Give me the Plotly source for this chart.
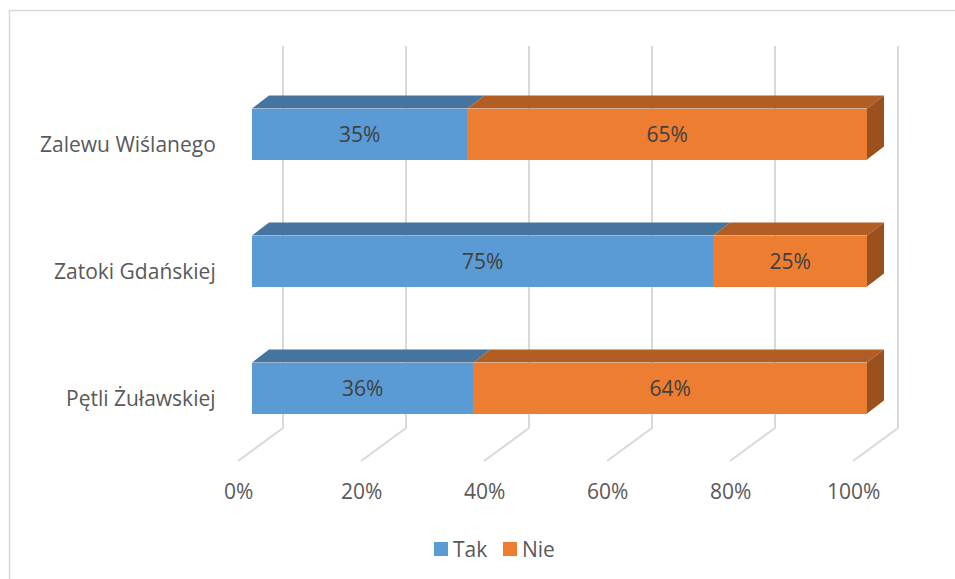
import plotly.graph_objects as go

# ---- data -------------------------------------------------------------
categories = ["Pętli Żuławskiej", "Zatoki Gdańskiej", "Zalewu Wiślanego"]
tak = [36, 75, 35]
nie = [64, 25, 65]
series_names = ["Tak", "Nie"]
tick_values = [0, 20, 40, 60, 80, 100]
tick_labels = ["0%", "20%", "40%", "60%", "80%", "100%"]

# ---- styling ----------------------------------------------------------
FONT = "Open Sans"
FS = 21
FRONT = ["#5B9BD5", "#ED7D31"]
TOP = ["#45749F", "#B25D24"]
SIDE = ["#3B6590", "#9A511E"]
GRID = "#D9D9D9"
LABEL = "#595959"
VALUE = "#404040"

# ---- geometry (pixels -> axis units) ----------------------------------
W, H = 955, 579
X_ORIGIN = 252.0      # pixel column of 0 % on the front plane
PX_PER_PCT = 6.15
Y_ORIGIN = 388.0      # pixel row of the first category centre
PX_PER_ROW = 127.0


def ux(px):
    return px / PX_PER_PCT


def uy(px):
    return px / PX_PER_ROW


x_range = [-X_ORIGIN / PX_PER_PCT, (W - X_ORIGIN) / PX_PER_PCT]
y_range = [(Y_ORIGIN - H) / PX_PER_ROW, Y_ORIGIN / PX_PER_ROW]

BAR_W = uy(51)
DEPTH_X, DEPTH_Y = ux(17), uy(13)          # bar depth (oblique projection)
FLOOR_FX, FLOOR_FY = ux(-14), -uy(73)      # front edge of the floor
FLOOR_BX, FLOOR_BY = ux(31), -uy(40)       # back edge of the floor
WALL_TOP = uy(342)                         # top of the back wall
TICK_Y = -uy(103)
LABEL_DX, LABEL_DY = ux(-34), -uy(10)

rows = list(range(len(categories)))
series = [tak, nie]

fig = go.Figure()

# front faces of the stacked bars
for name, vals, col in zip(series_names, series, FRONT):
    fig.add_trace(go.Bar(
        y=rows, x=vals, orientation="h", name=name, width=BAR_W,
        marker=dict(color=col, line=dict(width=0)),
        text=[f"{v}%" for v in vals], textposition="inside",
        insidetextanchor="middle", textangle=0, constraintext="none",
        textfont=dict(family=FONT, size=FS, color=VALUE),
        showlegend=False, hoverinfo="skip",
    ))

# top faces of each segment and the right-hand side face of the stack
bases = [0] * len(categories)
for k, vals in enumerate(series):
    tx, ty = [], []
    sx, sy = [], []
    for i, v in enumerate(vals):
        b, e = bases[i], bases[i] + v
        top = i + BAR_W / 2
        bot = i - BAR_W / 2
        tx += [b, e, e + DEPTH_X, b + DEPTH_X, b, None]
        ty += [top, top, top + DEPTH_Y, top + DEPTH_Y, top, None]
        if k == len(series) - 1:
            sx += [e, e, e + DEPTH_X, e + DEPTH_X, e, None]
            sy += [bot, top, top + DEPTH_Y, bot + DEPTH_Y, bot, None]
        bases[i] = e
    fig.add_trace(go.Scatter(x=tx, y=ty, mode="lines", fill="toself",
                             fillcolor=TOP[k], line=dict(width=0),
                             showlegend=False, hoverinfo="skip"))
    if sx:
        fig.add_trace(go.Scatter(x=sx, y=sy, mode="lines", fill="toself",
                                 fillcolor=SIDE[k], line=dict(width=0),
                                 showlegend=False, hoverinfo="skip"))

# floor and back-wall gridlines
shapes = []
for v in tick_values:
    path = (f"M {v + FLOOR_FX},{FLOOR_FY} L {v + FLOOR_BX},{FLOOR_BY} "
            f"L {v + FLOOR_BX},{WALL_TOP}")
    shapes.append(dict(type="path", path=path, xref="x", yref="y",
                       layer="below", line=dict(color=GRID, width=2)))

# chart border
shapes.append(dict(type="rect", xref="paper", yref="paper",
                   x0=9.5 / W, x1=1.02, y0=-0.02, y1=1 - 10.5 / H,
                   line=dict(color=GRID, width=1.5), layer="below"))

annotations = []
for v, lab in zip(tick_values, tick_labels):
    annotations.append(dict(x=v + FLOOR_FX, y=TICK_Y, xref="x", yref="y",
                            text=lab, showarrow=False, xanchor="center",
                            yanchor="middle",
                            font=dict(family=FONT, size=FS, color=LABEL)))
for i, cat in enumerate(categories):
    annotations.append(dict(x=LABEL_DX, y=i + LABEL_DY, xref="x", yref="y",
                            text=cat, showarrow=False, xanchor="right",
                            yanchor="middle",
                            font=dict(family=FONT, size=FS, color=LABEL)))

# legend
leg_x = [434, 503]
for name, col, lx in zip(series_names, FRONT, leg_x):
    shapes.append(dict(type="rect", xref="paper", yref="paper",
                       x0=lx / W, x1=(lx + 14) / W,
                       y0=1 - 556 / H, y1=1 - 542 / H,
                       fillcolor=col, line=dict(width=0)))
    annotations.append(dict(x=(lx + 17) / W, y=1 - 549 / H,
                            xref="paper", yref="paper", text=name,
                            showarrow=False, xanchor="left", yanchor="middle",
                            font=dict(family=FONT, size=FS, color=LABEL)))

fig.update_layout(
    width=W, height=H, barmode="stack",
    margin=dict(l=0, r=0, t=0, b=0),
    paper_bgcolor="white", plot_bgcolor="white",
    xaxis=dict(range=x_range, visible=False, fixedrange=True),
    yaxis=dict(range=y_range, visible=False, fixedrange=True),
    shapes=shapes, annotations=annotations,
)

fig.write_html("out.html")
